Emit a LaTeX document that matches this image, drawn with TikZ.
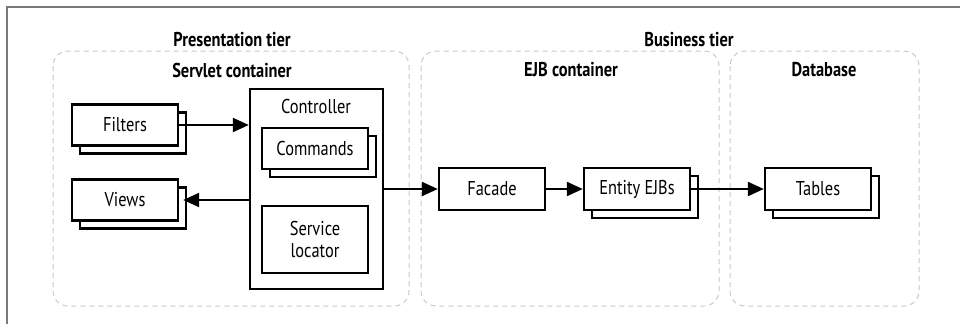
\documentclass[tikz,border=0pt]{standalone}
\usepackage{fontspec}
\setmainfont{PT Sans}[FakeStretch=0.82]
\usetikzlibrary{arrows.meta,shadows}
\definecolor{framegray}{HTML}{7A7A7A}
\definecolor{dashgray}{HTML}{C8C8C8}
\begin{document}
\begin{tikzpicture}[x=1pt,y=-1pt,
  box/.style={draw=black,line width=2.4pt,fill=white,rectangle,inner sep=0pt,minimum width=106pt,minimum height=41pt,font=\fontsize{20}{22}\selectfont,align=center},
  stackbox/.style={box,copy shadow={shadow xshift=8pt,shadow yshift=-8pt,draw=black,line width=2.4pt,fill=white}},
  region/.style={draw=dashgray,dash pattern=on 5pt off 4pt,line width=1pt,rounded corners=15pt},
  title/.style={font=\bfseries\fontsize{20}{22}\selectfont,inner sep=0pt},
  plain/.style={font=\fontsize{20}{22}\selectfont,inner sep=0pt},
  conn/.style={line width=2.2pt,-{Triangle[length=16pt,width=14pt]}}
]
\useasboundingbox (0,0) rectangle (960,324);
\draw[framegray,line width=2pt] (7,324) -- (7,7) -- (960,7);
% regions
\draw[region] (53,51) rectangle (409,306);
\draw[region] (421,51) rectangle (719,306);
\draw[region] (730,51) rectangle (919,306);
% titles
\node[title] (tpres) at (232,40) {Presentation tier};
\node[title] (tserv) at (232,70) {Servlet container};
\node[title] (tbus) at (689,40) {Business tier};
\node[title] (tejb) at (571,70) {EJB container};
\node[title] (tdb) at (824,70) {Database};
% presentation tier
\node[stackbox] (filters) at (125,125) {Filters};
\node[stackbox] (views) at (125,200) {Views};
\node[box,minimum width=133pt,minimum height=200pt] (controller) at (316.5,189) {};
\node[plain] (ctrllabel) at (316,106) {Controller};
\node[stackbox] (commands) at (315,148.5) {Commands};
\node[box,minimum height=67pt] (locator) at (315,239.5) {Service\\locator};
% business tier
\node[box,minimum height=42pt] (facade) at (492,189) {Facade};
\node[stackbox,minimum height=42pt] (entity) at (637,189) {Entity EJBs};
\node[stackbox,minimum height=42pt] (tables) at (818,189) {Tables};
% connectors
\draw[conn] (filters.east) -- (filters.east -| controller.west);
\draw[conn] (views.east -| controller.west) -- ([xshift=4pt]views.east);
\draw[conn] (controller.east) -- (facade.west);
\draw[conn] (facade.east) -- (entity.west);
\draw[conn] (entity.east) -- (tables.west);
\end{tikzpicture}
\end{document}
